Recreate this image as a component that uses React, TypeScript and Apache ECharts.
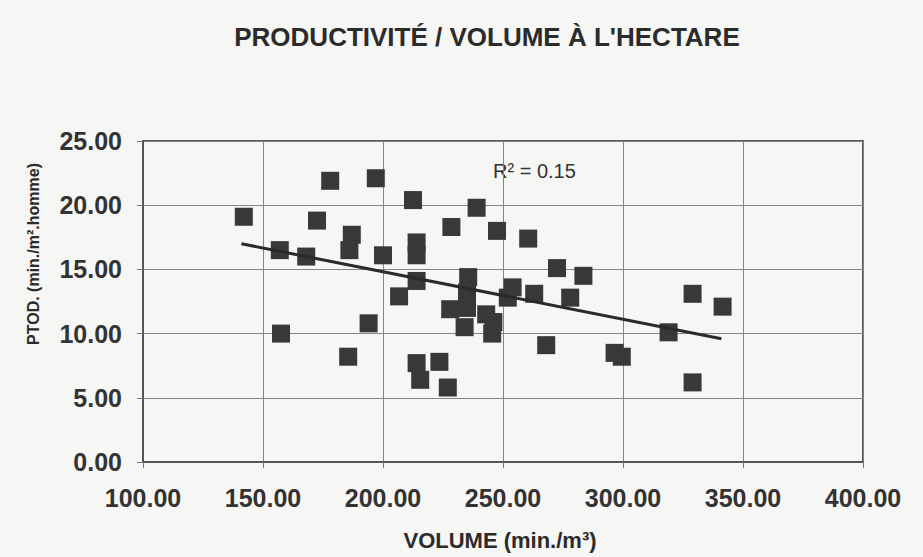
import React, { useEffect, useRef } from "react";
import * as echarts from "echarts";

const volume: number[] = [
  142, 157, 157.5, 168, 172.5, 178, 185.5, 186, 187, 194, 197, 200, 206.7, 212.5, 214, 214, 214, 214,
  215.5, 223.5, 227, 228.5, 228, 234, 235.5, 235, 235, 239, 243, 246, 245.5, 247.5, 252, 254, 260.5,
  263, 268, 272.5, 278, 283.5, 296.5, 299.5, 319, 329, 329, 341.5,
];
const ptod: number[] = [
  19.1, 16.5, 10.0, 16.0, 18.8, 21.9, 8.2, 16.5, 17.7, 10.8, 22.1, 16.1, 12.9, 20.4, 17.1, 16.1, 14.1, 7.7,
  6.4, 7.8, 5.8, 18.3, 11.9, 10.5, 14.4, 13.2, 12.0, 19.8, 11.5, 10.9, 10.0, 18.0, 12.8, 13.6, 17.4,
  13.1, 9.1, 15.1, 12.8, 14.5, 8.5, 8.2, 10.1, 13.1, 6.2, 12.1,
];
const trendX: number[] = [141, 341];
const trendY: number[] = [17.0, 9.6];
const xTicks = { min: 100, max: 400, step: 50 };
const yTicks = { min: 0, max: 25, step: 5 };
const titleText = "PRODUCTIVITÉ / VOLUME À L'HECTARE";
const xTitle = "VOLUME (min./m³)";
const yTitle = "PTOD. (min./m².homme)";
const r2Text = "R² = 0.15";

const FONT = "'Liberation Sans', Arial, sans-serif";

export default function App() {
  const ref = useRef<HTMLDivElement>(null);
  useEffect(() => {
    document.body.style.margin = "0";
    if (!ref.current) return;
    const chart = echarts.init(ref.current, null, { renderer: "svg" });
    const points = volume.map((v, i) => [v, ptod[i]]);
    const trend = trendX.map((v, i) => [v, trendY[i]]);
    chart.setOption({
      animation: false,
      backgroundColor: "#f6f6f4",
      title: {
        text: titleText,
        left: 482,
        top: 19,
        textAlign: "center",
        textStyle: {
          fontFamily: FONT,
          fontWeight: "bold",
          fontSize: 26,
          color: "#2b2b2b",
        },
      },
      grid: {
        left: 143,
        right: 60,
        top: 141,
        bottom: 95,
        show: true,
        borderColor: "#555",
        borderWidth: 2,
        backgroundColor: "transparent",
      },
      xAxis: {
        type: "value",
        min: xTicks.min,
        max: xTicks.max,
        interval: xTicks.step,
        axisLine: { show: true, lineStyle: { color: "#555", width: 2 } },
        axisTick: { show: true, length: 6, lineStyle: { color: "#777" } },
        axisLabel: {
          formatter: (v: number) => v.toFixed(2),
          fontFamily: FONT,
          fontWeight: "bold",
          fontSize: 25,
          color: "#333",
          margin: 23,
        },
        splitLine: { show: true, lineStyle: { color: "#858585", width: 1 } },
      },
      yAxis: {
        type: "value",
        min: yTicks.min,
        max: yTicks.max,
        interval: yTicks.step,
        axisLine: { show: true, lineStyle: { color: "#555", width: 2 } },
        axisTick: { show: true, length: 6, lineStyle: { color: "#777" } },
        axisLabel: {
          formatter: (v: number) => v.toFixed(2),
          fontFamily: FONT,
          fontWeight: "bold",
          fontSize: 25,
          color: "#333",
          margin: 21,
        },
        splitLine: { show: true, lineStyle: { color: "#858585", width: 1 } },
      },
      graphic: [
        {
          type: "text",
          left: 493,
          top: 161,
          style: {
            text: r2Text,
            fontFamily: FONT,
            fontSize: 20,
            fill: "#333",
          },
        },
        {
          type: "text",
          x: 500,
          y: 540,
          style: {
            text: xTitle,
            fontFamily: FONT,
            fontWeight: "bold",
            fontSize: 22,
            fill: "#2b2b2b",
            align: "center",
            verticalAlign: "middle",
          },
        },
        {
          type: "text",
          x: 33,
          y: 254,
          rotation: Math.PI / 2,
          style: {
            text: yTitle,
            fontFamily: FONT,
            fontWeight: "bold",
            fontSize: 16,
            fill: "#2b2b2b",
            align: "center",
            verticalAlign: "middle",
          },
        },
      ],
      series: [
        {
          type: "scatter",
          data: points,
          symbol: "rect",
          symbolSize: 18,
          itemStyle: { color: "#383838", opacity: 1 },
          z: 3,
        },
        {
          type: "line",
          data: trend,
          symbol: "none",
          lineStyle: { color: "#2a2a2a", width: 3 },
          z: 4,
        },
      ],
    });
    return () => chart.dispose();
  }, []);
  return <div ref={ref} style={{ width: 923, height: 557 }} />;
}
